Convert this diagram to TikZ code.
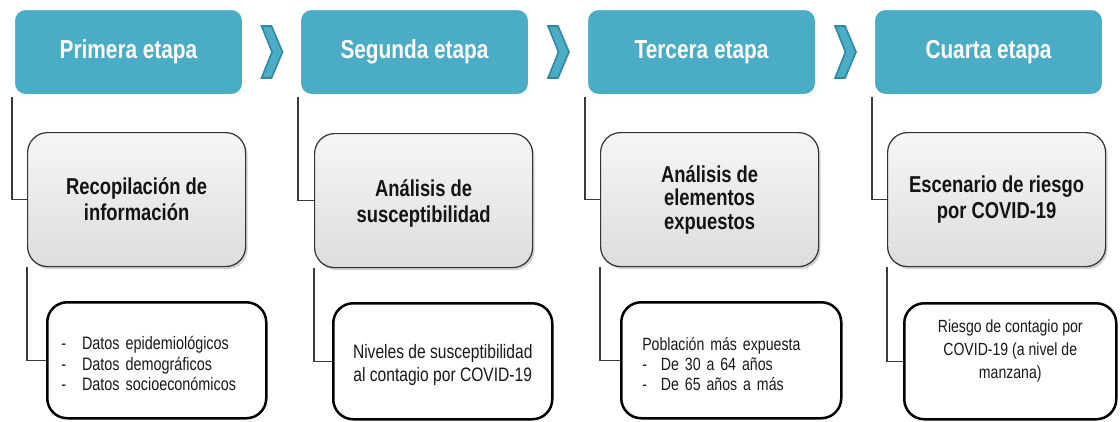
\documentclass[tikz,border=0pt]{standalone}
\usepackage{fontspec}
\setmainfont{Liberation Sans}[FakeStretch=0.8]
\usetikzlibrary{shadows,calc}
\definecolor{stageblue}{HTML}{4BACC6}
\definecolor{chevedge}{HTML}{2E89A4}
\definecolor{linegray}{HTML}{3A3A3A}
\tikzset{
  stagebox/.style={draw=white, line width=3pt, fill=stageblue, rounded corners=12pt,
    minimum width=230pt, minimum height=87pt, anchor=north west, inner sep=0pt,
    text=white, font=\fontsize{26}{30}\selectfont\bfseries,
    drop shadow={opacity=0.22, shadow xshift=1pt, shadow yshift=-1.5pt}},
  graybox/.style={draw=black!80, line width=1.2pt, top color=gray!7, bottom color=gray!27,
    rounded corners=20pt, minimum width=218pt, minimum height=134pt, anchor=north west,
    inner sep=0pt, align=center, text=black!92,
    font=\fontsize{23}{26}\selectfont\bfseries,
    drop shadow={opacity=0.35, shadow xshift=2pt, shadow yshift=-2.5pt}},
  whitebox/.style={draw=black, line width=2.5pt, fill=white, rounded corners=20pt,
    minimum width=219pt, minimum height=116pt, anchor=north west, inner sep=0pt,
    text=black!90},
  listbox/.style={whitebox, inner xsep=0pt, align=left,
    font=\fontsize{18}{20.5}\selectfont},
  link/.style={draw=linegray, line width=1.1pt},
  chevron/.pic={\draw[draw=chevedge, fill=stageblue, line width=1.6pt, line join=miter]
    (-10,-26) -- (0,-26) -- (11,0) -- (0,26) -- (-10,26) -- (0.5,0) -- cycle;}
}
\begin{document}
\begin{tikzpicture}[x=1pt,y=-1pt]
\useasboundingbox[fill=white] (0,0) rectangle (1120,421);

% stage headers
\node[stagebox] (t1) at (12,7) {Primera etapa};
\node[stagebox] (t2) at (298,7) {Segunda etapa};
\node[stagebox] (t3) at (585,7) {Tercera etapa};
\node[stagebox] (t4) at (872,7) {Cuarta etapa};

% chevrons
\path ($(t1.east)!0.5!(t2.west)$) pic {chevron};
\path ($(t2.east)!0.5!(t3.west)$) pic {chevron};
\path ($(t3.east)!0.5!(t4.west)$) pic {chevron};

% gray boxes
\node[graybox] (g1) at (27,132) {Recopilación de\\información};
\node[graybox] (g2) at (314,133) {\rule{0pt}{23pt}Análisis de\\susceptibilidad};
\node[graybox, font=\fontsize{23}{23.5}\selectfont\bfseries] (g3) at (600,132) {Análisis de\\elementos\\expuestos};
\node[graybox] (g4) at (887,132) {Escenario de riesgo\\por COVID-19};

% white boxes
\node[listbox, text width=219pt] (w1) at (46,301)
  {\hspace*{14pt}\begin{tabular}{@{}l@{\hspace{16pt}}l@{}}\rule{0pt}{26pt}-&Datos epidemiológicos\\-&Datos demográficos\\-&Datos socioeconómicos\end{tabular}};
\node[whitebox, font=\fontsize{19.5}{23}\selectfont] (w2) at (332,302)
  {\begin{tabular}{@{}c@{}}\rule{0pt}{24pt}Niveles de susceptibilidad\\al contagio por COVID-19\end{tabular}};
\node[listbox, font=\fontsize{17.7}{20}\selectfont, text width=220pt] (w3) at (620,301)
  {\hspace*{21pt}\begin{tabular}{@{}l@{\hspace{14pt}}l@{}}\multicolumn{2}{@{}l@{}}{\rule{0pt}{26pt}Población más expuesta}\\-&De 30 a 64 años\\-&De 65 años a más\end{tabular}};
\node[whitebox, minimum width=212pt, font=\fontsize{17.6}{23}\selectfont] (w4) at (903,302)
  {\begin{tabular}[c]{@{}c@{}}Riesgo de contagio por\\COVID-19 (a nivel de\\manzana)\\[20pt]\end{tabular}};

% connectors
\draw[link] (t1.south west) |- (g1.west);
\draw[link] (t2.south west) |- (g2.west);
\draw[link] (t3.south west) |- (g3.west);
\draw[link] (t4.south west) |- (g4.west);
\draw[link] (g1.south west) |- (w1.west);
\draw[link] (g2.south west) |- (w2.west);
\draw[link] (g3.south west) |- (w3.west);
\draw[link] (g4.south west) |- (w4.west);
\end{tikzpicture}
\end{document}
